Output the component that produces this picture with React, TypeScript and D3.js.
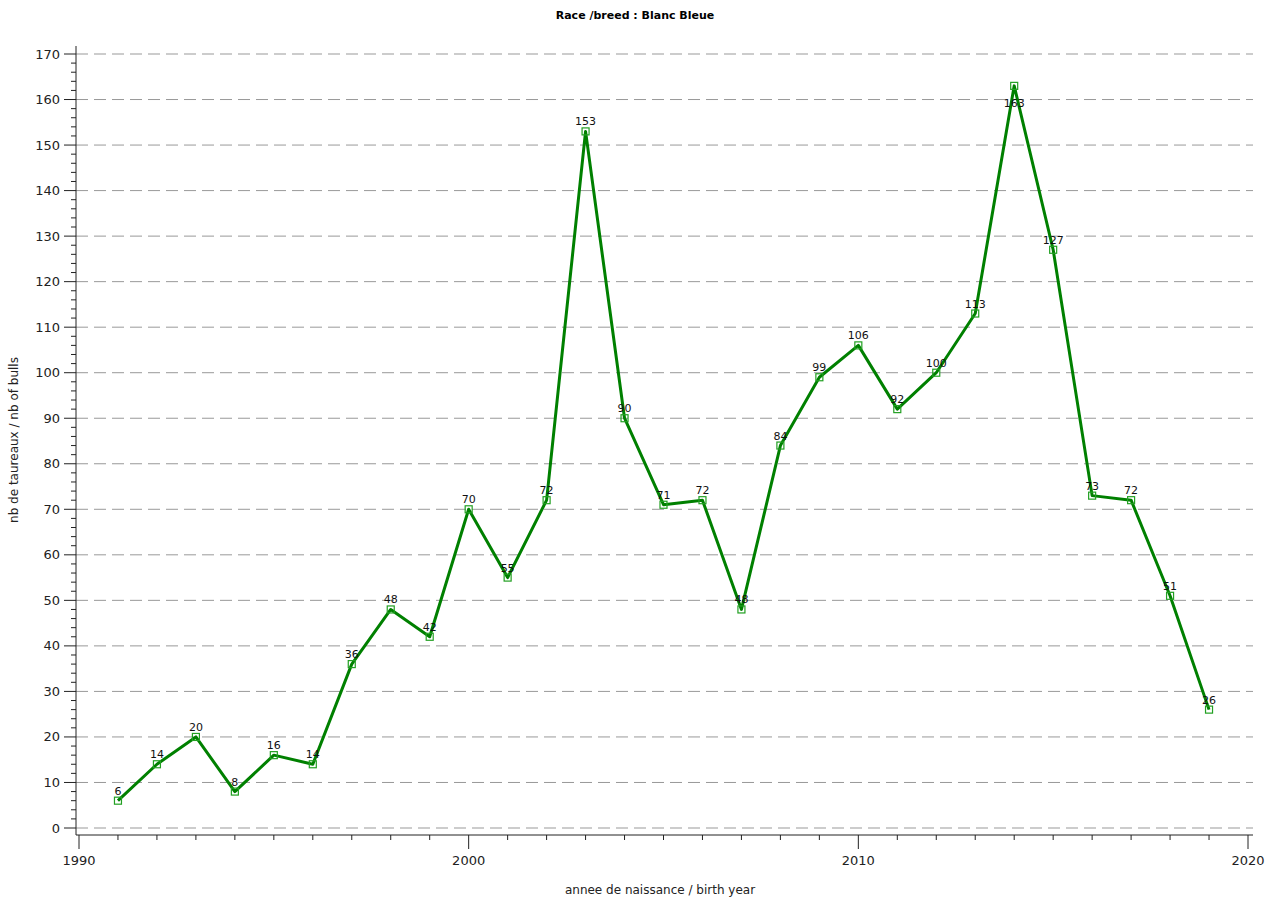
import React from "react";
import * as d3 from "d3";

const years = [1991,1992,1993,1994,1995,1996,1997,1998,1999,2000,2001,2002,2003,2004,2005,2006,2007,2008,2009,2010,2011,2012,2013,2014,2015,2016,2017,2018,2019];
const bulls = [6,14,20,8,16,14,36,48,42,70,55,72,153,90,71,72,48,84,99,106,92,100,113,163,127,73,72,51,26];
const yTicks = d3.range(0, 171, 10);
const xTicks = [1990, 2000, 2010, 2020];
const title = "Race /breed : Blanc Bleue";
const xTitle = "annee de naissance / birth year";
const yTitle = "nb de taureaux / nb of bulls";

const W = 1274, H = 903;
const left = 76, right = 1253, top = 46, bottom = 835;

export default function App() {
  const x = d3.scaleLinear().domain([1990, 2020]).range([79, 1248]);
  const y = d3.scaleLinear().domain([0, 170]).range([828, 54]);
  const line = d3.line<number>().x((_, i) => x(years[i])).y((v) => y(v));
  const maxIdx = bulls.indexOf(d3.max(bulls)!);
  const font = "'DejaVu Sans', Verdana, sans-serif";
  return (
    <svg width={W} height={H} style={{ position: "absolute", left: 0, top: 0, background: "#fff" }} fontFamily={font}>
      <rect width={W} height={H} fill="#fff" />
      <text x={635} y={19} textAnchor="middle" fontSize={11} fontWeight="bold" fill="#000">{title}</text>
      {yTicks.map((t) => (
        <line key={"g" + t} x1={left} x2={right} y1={y(t)} y2={y(t)} stroke="#999" strokeWidth={1} strokeDasharray="12,6" />
      ))}
      {/* y axis */}
      <line x1={left} x2={left} y1={top} y2={bottom} stroke="#222" strokeWidth={1} />
      {d3.range(0, 171, 2).map((t) => (
        <line key={"ym" + t} x1={t % 10 === 0 ? 64 : 71} x2={left} y1={y(t)} y2={y(t)} stroke="#222" strokeWidth={1} />
      ))}
      {yTicks.map((t) => (
        <text key={"yl" + t} x={60} y={y(t)} dy="0.35em" textAnchor="end" fontSize={13} fill="#222">{t}</text>
      ))}
      {/* x axis */}
      <line x1={left} x2={right} y1={bottom} y2={bottom} stroke="#222" strokeWidth={1} />
      {d3.range(1990, 2021).map((t) => (
        <line key={"xm" + t} x1={x(t)} x2={x(t)} y1={bottom} y2={t % 10 === 0 ? 849 : 840} stroke="#222" strokeWidth={1} />
      ))}
      {xTicks.map((t) => (
        <text key={"xl" + t} x={x(t)} y={865} textAnchor="middle" fontSize={13} fill="#222">{t}</text>
      ))}
      <text x={660} y={894} textAnchor="middle" fontSize={12} fill="#222">{xTitle}</text>
      <text transform={`translate(18,440) rotate(-90)`} textAnchor="middle" fontSize={12} fill="#222">{yTitle}</text>
      {/* series */}
      <path d={line(bulls) || ""} fill="none" stroke="#008000" strokeWidth={3} strokeLinejoin="round" />
      {bulls.map((v, i) => (
        <rect key={"m" + i} x={x(years[i]) - 3.5} y={y(v) - 3.5} width={7} height={7} fill="none" stroke="#22a022" strokeWidth={1.2} />
      ))}
      {bulls.map((v, i) => (
        <text key={"l" + i} x={x(years[i])} y={i === maxIdx ? y(v) + 21 : y(v) - 6} textAnchor="middle" fontSize={11} fill="#111">{v}</text>
      ))}
    </svg>
  );
}
